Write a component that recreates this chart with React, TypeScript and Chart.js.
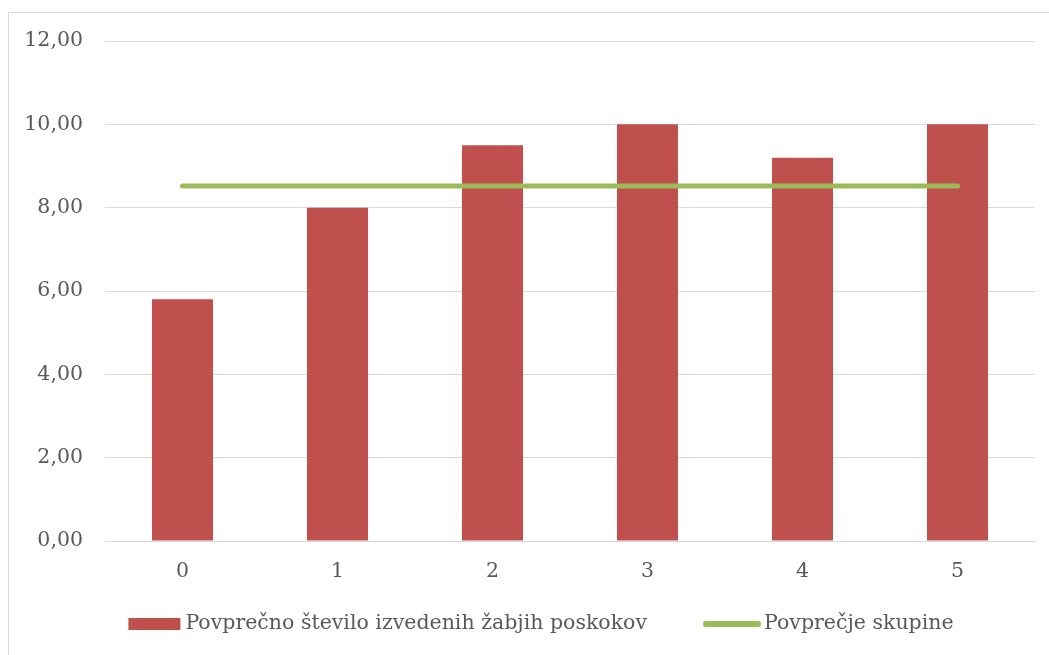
import React, { useEffect, useRef } from "react";
import { Chart, registerables } from "chart.js";

Chart.register(...registerables);

const categories = ["0", "1", "2", "3", "4", "5"];
const averageJumps = [5.8, 8.0, 9.5, 10.0, 9.2, 10.0];
const groupAverage = [8.52, 8.52, 8.52, 8.52, 8.52, 8.52];
const barLabel = "Povprečno število izvedenih žabjih poskokov";
const lineLabel = "Povprečje skupine";

const BAR_COLOR = "#C0504D";
const LINE_COLOR = "#9BBB59";
const TEXT_COLOR = "#595959";
const GRID_COLOR = "#D9D9D9";
const FONT = "'DejaVu Serif', serif";
const FONT_SIZE = 20.5;

// Legend drawn below the axis, centred like the original Office legend
const bottomLegend = {
  id: "bottomLegend",
  afterDraw(chart: any) {
    const ctx = chart.ctx as CanvasRenderingContext2D;
    const y = chart.chartArea.bottom + 83;
    const boxW = 52;
    const boxH = 12;
    const lineW = 58;
    const textGap = 5;
    const itemGap = 56;
    ctx.save();
    ctx.font = `${FONT_SIZE}px ${FONT}`;
    const w1 = ctx.measureText(barLabel).width;
    const w2 = ctx.measureText(lineLabel).width;
    const total = boxW + textGap + w1 + itemGap + lineW + 3 + w2;
    let x = chart.width / 2 + 12 - total / 2;
    ctx.fillStyle = BAR_COLOR;
    ctx.fillRect(x, y - boxH / 2, boxW, boxH);
    x += boxW + textGap;
    ctx.fillStyle = TEXT_COLOR;
    ctx.textBaseline = "middle";
    ctx.textAlign = "left";
    ctx.fillText(barLabel, x, y);
    x += w1 + itemGap;
    ctx.strokeStyle = LINE_COLOR;
    ctx.lineWidth = 6;
    ctx.lineCap = "round";
    ctx.beginPath();
    ctx.moveTo(x + 3, y);
    ctx.lineTo(x + lineW - 3, y);
    ctx.stroke();
    x += lineW + 3;
    ctx.fillText(lineLabel, x, y);
    ctx.restore();
  },
};

export default function App() {
  const ref = useRef<HTMLCanvasElement>(null);

  useEffect(() => {
    if (!ref.current) return;
    const chart = new Chart(ref.current, {
      type: "bar",
      data: {
        labels: categories,
        datasets: [
          {
            type: "bar",
            label: barLabel,
            data: averageJumps,
            backgroundColor: BAR_COLOR,
            borderWidth: 0,
            barPercentage: 0.394,
            categoryPercentage: 1,
            order: 1,
          },
          {
            type: "line",
            label: lineLabel,
            data: groupAverage,
            borderColor: LINE_COLOR,
            backgroundColor: LINE_COLOR,
            borderWidth: 5,
            borderCapStyle: "round",
            pointRadius: 0,
            fill: false,
            order: 0,
          },
        ],
      },
      options: {
        responsive: false,
        animation: false,
        layout: { padding: { left: 0, right: 14, top: 28, bottom: 64 } },
        plugins: {
          tooltip: { enabled: false },
          legend: { display: false },
        },
        scales: {
          x: {
            grid: { display: false, drawTicks: false },
            border: { color: GRID_COLOR, width: 1 },
            ticks: {
              color: TEXT_COLOR,
              font: { family: FONT, size: FONT_SIZE },
              padding: 18,
              maxRotation: 0,
            },
            afterFit: (scale: any) => {
              scale.height = 50;
              scale.paddingLeft = 0;
              scale.paddingRight = 0;
            },
          },
          y: {
            min: 0,
            max: 12,
            grid: { color: GRID_COLOR, lineWidth: 1, drawTicks: false },
            border: { display: false },
            ticks: {
              stepSize: 2,
              color: TEXT_COLOR,
              font: { family: FONT, size: FONT_SIZE },
              padding: 22,
              callback: (v: any) => Number(v).toFixed(2).replace(".", ","),
            },
            afterFit: (scale: any) => {
              scale.width = 96;
              scale.paddingTop = 0;
              scale.paddingBottom = 0;
            },
          },
        },
      },
      plugins: [bottomLegend],
    });
    return () => chart.destroy();
  }, []);

  return (
    <div
      style={{
        position: "fixed",
        left: 8,
        top: 12,
        width: 1041,
        height: 643,
        borderLeft: `1px solid ${GRID_COLOR}`,
        borderTop: `1px solid ${GRID_COLOR}`,
        background: "#ffffff",
      }}
    >
      <canvas ref={ref} width={1040} height={642} style={{ display: "block" }} />
    </div>
  );
}
